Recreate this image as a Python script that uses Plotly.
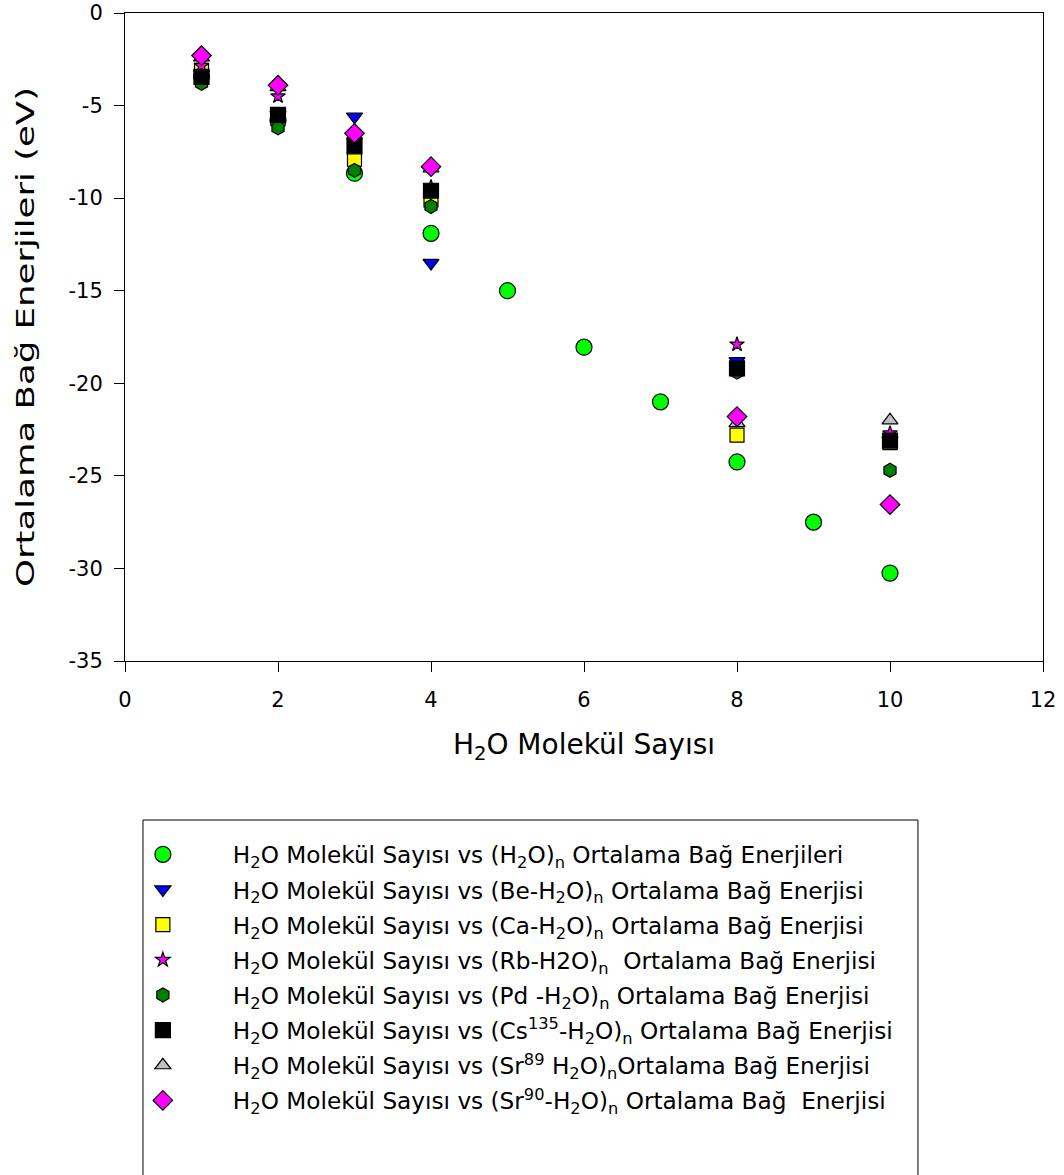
import plotly.graph_objects as go

# Number of water molecules in the cluster
n_water = [1, 2, 3, 4, 8, 10]
n_water_pure = [1, 2, 3, 4, 5, 6, 7, 8, 9, 10]

# Average binding energies (eV)
e_h2o = [-3.45, -5.8, -8.65, -11.9, -15.0, -18.05, -21.0, -24.25, -27.5, -30.25]
e_be = [-3.3, -5.5, -5.6, -13.5, -18.8, -23.1]
e_ca = [-3.1, -5.7, -7.9, -10.1, -22.8, -23.2]
e_rb = [-2.85, -4.5, -6.9, -9.4, -17.9, -22.7]
e_pd = [-3.8, -6.2, -8.5, -10.45, -19.4, -24.7]
e_cs = [-3.45, -5.5, -7.2, -9.6, -19.2, -23.1]
e_sr89 = [-2.4, -4.0, -6.6, -8.4, -22.15, -22.0]
e_sr90 = [-2.3, -3.9, -6.5, -8.3, -21.8, -26.55]

# Axis ticks
x_ticks = [0, 2, 4, 6, 8, 10, 12]
y_ticks = [0, -5, -10, -15, -20, -25, -30, -35]
y_tick_text = ["0", "-5", "-10", "-15", "-20", "-25", "-30", "-35"]

series = [
    ("H<sub>2</sub>O Molekül Sayısı vs (H<sub>2</sub>O)<sub>n</sub> Ortalama Bağ Enerjileri",
     n_water_pure, e_h2o, "circle", "#00FF00", 16),
    ("H<sub>2</sub>O Molekül Sayısı vs (Be-H<sub>2</sub>O)<sub>n</sub> Ortalama Bağ Enerjisi",
     n_water, e_be, "triangle-down", "#0000FF", 14),
    ("H<sub>2</sub>O Molekül Sayısı vs (Ca-H<sub>2</sub>O)<sub>n</sub> Ortalama Bağ Enerjisi",
     n_water, e_ca, "square", "#FFFF00", 14),
    ("H<sub>2</sub>O Molekül Sayısı vs (Rb-H2O)<sub>n</sub>  Ortalama Bağ Enerjisi",
     n_water, e_rb, "star", "#FF00FF", 11),
    ("H<sub>2</sub>O Molekül Sayısı vs (Pd -H<sub>2</sub>O)<sub>n</sub> Ortalama Bağ Enerjisi",
     n_water, e_pd, "hexagon", "#007F00", 14),
    ("H<sub>2</sub>O Molekül Sayısı vs (Cs<sup>135</sup>-H<sub>2</sub>O)<sub>n</sub> Ortalama Bağ Enerjisi",
     n_water, e_cs, "square", "#000000", 15),
    ("H<sub>2</sub>O Molekül Sayısı vs (Sr<sup>89</sup> H<sub>2</sub>O)<sub>n</sub>Ortalama Bağ Enerjisi",
     n_water, e_sr89, "triangle-up", "#C0C0C0", 14),
    ("H<sub>2</sub>O Molekül Sayısı vs (Sr<sup>90</sup>-H<sub>2</sub>O)<sub>n</sub> Ortalama Bağ  Enerjisi",
     n_water, e_sr90, "diamond", "#FF00FF", 15),
]

FONT = "DejaVu Sans"

fig = go.Figure()
for i, (name, xs, ys, sym, col, size) in enumerate(series):
    fig.add_trace(go.Scatter(
        x=xs, y=ys, mode="markers", name=name, legendgroup=f"g{i}",
        marker=dict(symbol=sym, color=col, size=size,
                    line=dict(color="black", width=1.2)),
    ))

axis_common = dict(
    showline=True, linecolor="black", linewidth=1, mirror=True,
    ticks="outside", ticklen=10, tickwidth=1, tickcolor="black",
    showgrid=False, zeroline=False,
    tickfont=dict(family=FONT, size=21, color="black"),
)

fig.update_xaxes(range=[0, 12], tickvals=x_ticks, ticklabelstandoff=10,
                 title=dict(text="H<sub>2</sub>O Molekül Sayısı",
                            font=dict(family=FONT, size=28, color="black"),
                            standoff=23),
                 **axis_common)
fig.update_yaxes(range=[-35, 0], tickvals=y_ticks, ticktext=y_tick_text,
                 ticklabelstandoff=7,
                 title=dict(text="Ortalama Bağ Enerjileri (eV)",
                            font=dict(family=FONT, size=25, color="black"),
                            standoff=26),
                 **axis_common)

# frame around the legend
fig.add_shape(type="rect", xref="paper", yref="paper",
              x0=0.0196, x1=0.8638, y0=-0.80, y1=-0.2454,
              line=dict(color="black", width=1), fillcolor="rgba(0,0,0,0)")

fig.update_layout(
    width=1064, height=1175,
    margin=dict(l=125, r=21, t=13, b=514, autoexpand=False),
    plot_bgcolor="white", paper_bgcolor="white",
    font=dict(family=FONT, color="black"),
    showlegend=True,
    legend=dict(
        x=-0.035, y=-0.265, xanchor="left", yanchor="top",
        font=dict(family=FONT, size=23.2, color="black"),
        bgcolor="rgba(0,0,0,0)", borderwidth=0,
        traceorder="grouped", tracegroupgap=2, itemwidth=130,
    ),
)

# the vertical axis title is set with an elongated run length
post = """
var gd = document.getElementById('{plot_id}');
var t = gd.querySelector('.ytitle');
if (t) { t.setAttribute('textLength', '500'); t.setAttribute('lengthAdjust', 'spacingAndGlyphs'); }
"""

fig.write_html("out.html", post_script=post)
